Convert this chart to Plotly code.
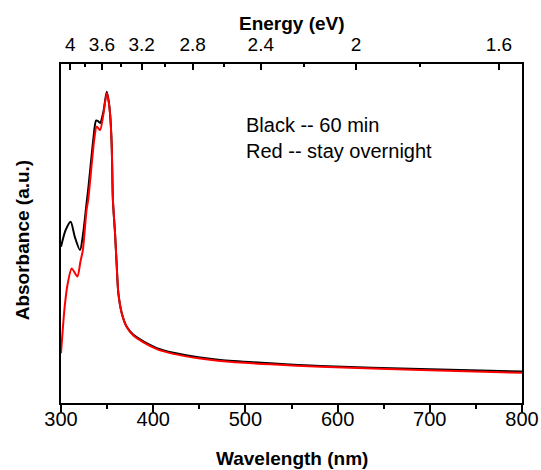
import plotly.graph_objects as go

# Wavelength (nm) and absorbance (a.u.)
wl_black = [300, 305, 310.5, 315, 320.6, 324, 327.5, 330, 335, 338, 340, 342.4, 345.9, 349.6, 351.5, 353.2,
            355, 356.3, 358.6, 360.5, 362.2, 365.9, 371.3, 378.5, 389.4, 403.9, 421.9, 450.9, 472.6, 526.9,
            581.2, 689.8, 800]
abs_black = [0.461, 0.510, 0.535, 0.490, 0.451, 0.500, 0.584, 0.643, 0.776, 0.833, 0.832, 0.826, 0.858, 0.918, 0.895, 0.855,
             0.760, 0.599, 0.501, 0.402, 0.324, 0.265, 0.225, 0.201, 0.182, 0.162, 0.148, 0.134, 0.127, 0.117,
             0.109, 0.100, 0.093]

wl_red = [300, 302, 304, 307, 311.6, 317.7, 321, 323.7, 327.7, 329.5, 336, 338.5, 340, 342.4, 345.9, 349.6, 351.5, 353.2,
          355, 356.3, 358.6, 360.5, 362.2, 365.9, 371.3, 378.5, 389.4, 403.9, 421.9, 450.9, 472.6, 526.9,
          581.2, 689.8, 800]
abs_red = [0.147, 0.220, 0.284, 0.348, 0.397, 0.373, 0.416, 0.451, 0.569, 0.599, 0.776, 0.815, 0.812, 0.805, 0.850, 0.914, 0.892, 0.852,
           0.760, 0.599, 0.501, 0.402, 0.324, 0.265, 0.224, 0.199, 0.179, 0.159, 0.145, 0.131, 0.124, 0.114,
           0.107, 0.097, 0.089]

wl_ticks = [300, 400, 500, 600, 700, 800]
energy_major = [4, 3.6, 3.2, 2.8, 2.4, 2, 1.6]
energy_labels = ["4", "3.6", "3.2", "2.8", "2.4", "2", "1.6"]
energy_minor = [3.8, 3.4, 3.0, 2.6, 2.2, 1.8]

FONT = "Liberation Sans, Arial, sans-serif"

fig = go.Figure()
fig.add_trace(go.Scatter(x=wl_black, y=abs_black, mode="lines",
                         line=dict(color="black", width=2, shape="spline", smoothing=0.7),
                         showlegend=False, hoverinfo="skip"))
fig.add_trace(go.Scatter(x=wl_red, y=abs_red, mode="lines",
                         line=dict(color="#ff0000", width=2, shape="spline", smoothing=0.7),
                         showlegend=False, hoverinfo="skip"))
# invisible trace to activate the top axis
fig.add_trace(go.Scatter(x=[300, 800], y=[None, None], xaxis="x2", mode="lines",
                         showlegend=False, hoverinfo="skip"))

fig.update_layout(
    width=541, height=470,
    margin=dict(l=61, r=19, t=64, b=67),
    paper_bgcolor="white", plot_bgcolor="white",
    font=dict(family=FONT, size=20, color="black"),
    xaxis=dict(
        range=[300, 800], tickmode="array", tickvals=wl_ticks,
        ticks="outside", ticklen=7, tickwidth=2, tickcolor="black",
        minor=dict(dtick=50, tick0=300, ticks="outside", ticklen=4, tickwidth=2, tickcolor="black"),
        showline=True, linewidth=2, linecolor="black", mirror=False,
        showgrid=False, zeroline=False, automargin=False,
        tickfont=dict(size=20), ticklabelstandoff=-10,
    ),
    xaxis2=dict(
        overlaying="x", side="top", anchor="y",
        range=[300, 800], tickmode="array",
        tickvals=[1240 / e for e in energy_major], ticktext=energy_labels,
        ticks="inside", ticklen=6, tickwidth=2, tickcolor="black",
        minor=dict(tickmode="array", tickvals=[1240 / e for e in energy_minor],
                   ticks="inside", ticklen=3, tickwidth=2, tickcolor="black"),
        showline=True, linewidth=2, linecolor="black",
        showgrid=False, zeroline=False, automargin=False,
        tickfont=dict(size=19), ticklabelstandoff=3,
    ),
    yaxis=dict(
        range=[0, 1], showticklabels=False, ticks="",
        showline=True, linewidth=2, linecolor="black", mirror=True,
        showgrid=False, zeroline=False, automargin=False,
    ),
    annotations=[
        dict(text="Black -- 60 min<br>Red -- stay overnight",
             xref="paper", yref="paper", x=0.396, y=0.783,
             xanchor="left", yanchor="middle", align="left", showarrow=False,
             font=dict(size=20, family=FONT, color="black")),
        dict(text="<b>Wavelength (nm)</b>", xref="paper", yref="paper", x=0.5, y=0,
             yshift=-55, xanchor="center", yanchor="middle", showarrow=False,
             font=dict(size=19, family=FONT, color="black")),
        dict(text="<b>Energy (eV)</b>", xref="paper", yref="paper", x=0.5, y=1,
             yshift=41, xanchor="center", yanchor="middle", showarrow=False,
             font=dict(size=19, family=FONT, color="black")),
        dict(text="<b>Absorbance (a.u.)</b>", xref="paper", yref="paper", x=0, y=0.48,
             xshift=-39, xanchor="center", yanchor="middle", textangle=-90, showarrow=False,
             font=dict(size=19, family=FONT, color="black")),
    ],
)

# remove the page's default body margin so the figure fills the window exactly
fig.write_html("out.html", config={"displayModeBar": False},
               post_script="document.body.style.margin='0';document.body.style.overflow='hidden';")
